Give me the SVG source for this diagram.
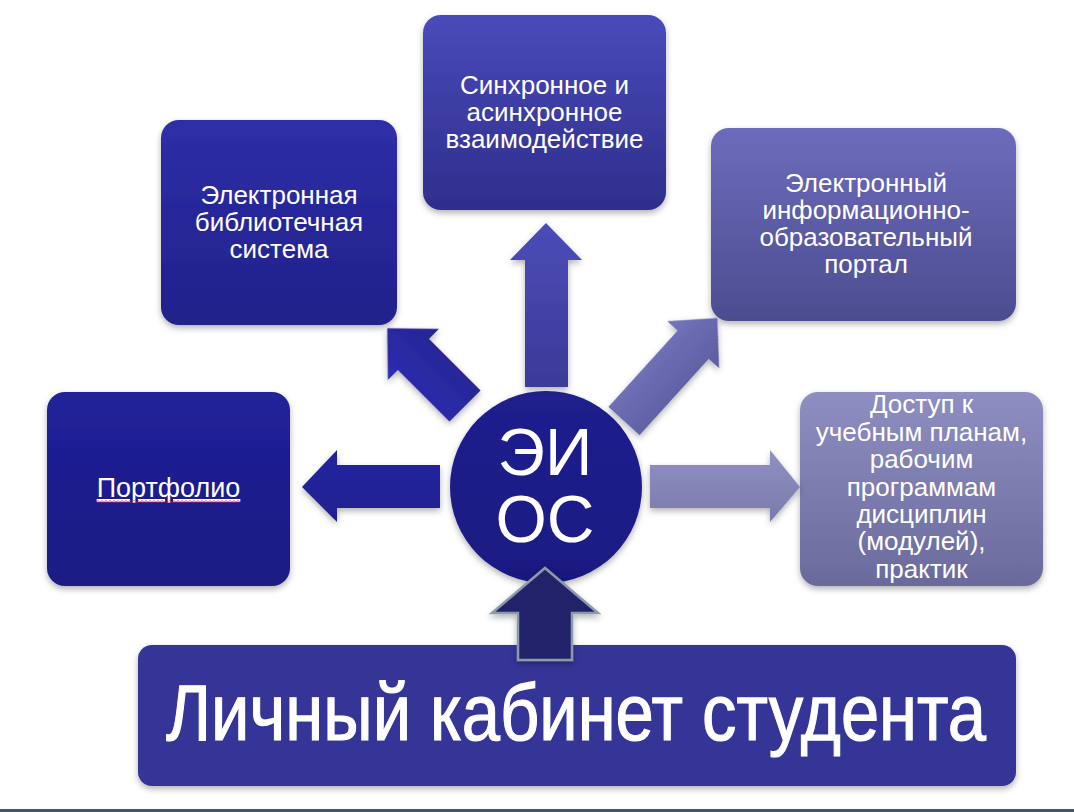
<svg xmlns="http://www.w3.org/2000/svg" width="1074" height="812" viewBox="0 0 1074 812">
<style>
.t{font-family:"Liberation Sans",Arial,sans-serif;fill:#ffffff;text-anchor:middle}
.box{font-size:26px}
</style>
<defs>
<filter id="sh" x="-10%" y="-10%" width="120%" height="125%">
<feDropShadow dx="0" dy="3" stdDeviation="3" flood-color="#000" flood-opacity="0.3"/>
</filter>
<linearGradient id="gPort" x1="0" y1="0" x2="0" y2="1"><stop offset="0" stop-color="#21219a"/><stop offset="1" stop-color="#1a1a82"/></linearGradient>
<linearGradient id="gLib" x1="0" y1="0" x2="0" y2="1"><stop offset="0" stop-color="#2e2ea8"/><stop offset="1" stop-color="#20208a"/></linearGradient>
<linearGradient id="gSync" x1="0" y1="0" x2="0" y2="1"><stop offset="0" stop-color="#4a4aba"/><stop offset="1" stop-color="#2e2e8c"/></linearGradient>
<linearGradient id="gPortal" x1="0" y1="0" x2="0" y2="1"><stop offset="0" stop-color="#6c6cbc"/><stop offset="1" stop-color="#4c4c90"/></linearGradient>
<linearGradient id="gAcc" x1="0" y1="0" x2="0" y2="1"><stop offset="0" stop-color="#8e8ec2"/><stop offset="1" stop-color="#6a6a9c"/></linearGradient>
<linearGradient id="gCirc" x1="0" y1="0" x2="0" y2="1"><stop offset="0" stop-color="#20208f"/><stop offset="1" stop-color="#191982"/></linearGradient>
<linearGradient id="aUp" x1="0" y1="0" x2="0" y2="1"><stop offset="0" stop-color="#4c4cb8"/><stop offset="1" stop-color="#3a3a98"/></linearGradient>
<linearGradient id="aUL" x1="0" y1="0" x2="0" y2="1"><stop offset="0" stop-color="#2e2eb0"/><stop offset="1" stop-color="#242492"/></linearGradient>
<linearGradient id="aL" x1="0" y1="0" x2="0" y2="1"><stop offset="0" stop-color="#2424a0"/><stop offset="1" stop-color="#1f1f90"/></linearGradient>
<linearGradient id="aUR" x1="0" y1="0" x2="0" y2="1"><stop offset="0" stop-color="#7474bc"/><stop offset="1" stop-color="#5c5ca0"/></linearGradient>
<linearGradient id="aR" x1="0" y1="0" x2="0" y2="1"><stop offset="0" stop-color="#9090c4"/><stop offset="1" stop-color="#7a7aaa"/></linearGradient>
<pattern id="wave" x="0" y="0" width="4" height="3" patternUnits="userSpaceOnUse">
<path d="M0,0.5 L2,2.5 L4,0.5" fill="none" stroke="#d02040" stroke-width="0.9"/>
</pattern>
</defs>
<rect x="0" y="0" width="1074" height="812" fill="#ffffff"/>
<rect x="0" y="809" width="1074" height="3" fill="#3c5878"/>

<g id="node-bottom">
<rect x="138" y="645" width="878" height="141" rx="14" fill="#343498" filter="url(#sh)"/>
<text class="t" transform="translate(576,740) scale(0.82,1)" x="0" y="0" font-size="80" textLength="1000" lengthAdjust="spacingAndGlyphs" stroke="#ffffff" stroke-width="1.2">Личный кабинет студента</text>
</g>

<g id="node-portfolio">
<rect x="47" y="392" width="243" height="194" rx="18" fill="url(#gPort)" filter="url(#sh)"/>
<text class="t" x="168.5" y="497" font-size="27" text-decoration="underline">Портфолио</text>
<rect x="97" y="500" width="143" height="3" fill="url(#wave)"/>
</g>

<g id="node-library">
<rect x="161" y="120" width="236" height="205" rx="18" fill="url(#gLib)" filter="url(#sh)"/>
<text class="t box" x="279" y="204">Электронная</text>
<text class="t box" x="279" y="231">библиотечная</text>
<text class="t box" x="279" y="258">система</text>
</g>

<g id="node-sync">
<rect x="423" y="15" width="243" height="195" rx="18" fill="url(#gSync)" filter="url(#sh)"/>
<text class="t box" x="544.5" y="94">Синхронное и</text>
<text class="t box" x="544.5" y="121">асинхронное</text>
<text class="t box" x="544.5" y="148">взаимодействие</text>
</g>

<g id="node-portal">
<rect x="711" y="128" width="305" height="193" rx="18" fill="url(#gPortal)" filter="url(#sh)"/>
<text class="t box" x="866" y="192">Электронный</text>
<text class="t box" x="866" y="219">информационно-</text>
<text class="t box" x="866" y="246">образовательный</text>
<text class="t box" x="866" y="273">портал</text>
</g>

<g id="node-access">
<rect x="800" y="392" width="243" height="194" rx="18" fill="url(#gAcc)" filter="url(#sh)"/>
<text class="t box" x="921.5" y="413">Доступ к</text>
<text class="t box" x="921.5" y="441">учебным планам,</text>
<text class="t box" x="921.5" y="468">рабочим</text>
<text class="t box" x="921.5" y="496">программам</text>
<text class="t box" x="921.5" y="523">дисциплин</text>
<text class="t box" x="921.5" y="550">(модулей),</text>
<text class="t box" x="921.5" y="578">практик</text>
</g>

<g id="node-eios">
<circle cx="546" cy="487" r="96" fill="url(#gCirc)" filter="url(#sh)"/>
<text class="t" x="545" y="475" font-size="66">ЭИ</text>
<text class="t" x="545" y="542" font-size="66">ОС</text>
</g>

<g id="connectors" filter="url(#sh)">
<path d="M525,387 L525,260 L510,260 L546,223 L582,260 L568,260 L568,387 Z" fill="url(#aUp)"/>
<path d="M0,-22 L73,-22 L73,-36 L110,0 L73,36 L73,22 L0,22 Z" transform="translate(465,406) rotate(-135)" fill="url(#aUL)"/>
<path d="M0,-21 L103,-21 L103,-35 L139,0 L103,35 L103,21 L0,21 Z" transform="translate(624,421) rotate(-47.8)" fill="url(#aUR)"/>
<path d="M440,465 L337,465 L337,450 L302,487 L337,522 L337,508 L440,508 Z" fill="url(#aL)"/>
<path d="M650,465 L770,465 L770,450 L800,487 L770,522 L770,508 L650,508 Z" fill="url(#aR)"/>
<path d="M518,660 L518,613 L492,613 L545,568 L598,613 L572,613 L572,660 Z" fill="#24246a" stroke="#8a9aaa" stroke-width="2.5" stroke-linejoin="miter"/>
</g>
</svg>
